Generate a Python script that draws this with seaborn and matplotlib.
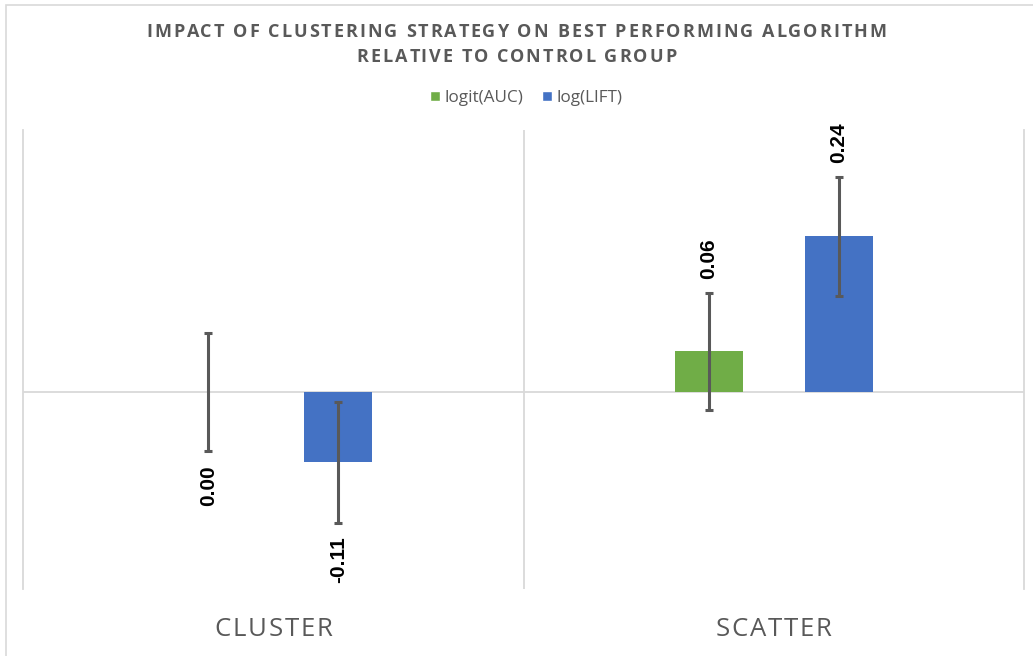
import matplotlib
matplotlib.use("Agg")
import matplotlib.pyplot as plt
from matplotlib.patches import Patch, Rectangle
import pandas as pd
import seaborn as sns

sns.set_theme(style="white")

# ============================================================
# DATA
# ============================================================
categories = ["CLUSTER", "SCATTER"]
series = ["logit(AUC)", "log(LIFT)"]
auc_values = [0.00, 0.063]
lift_values = [-0.108, 0.24]
auc_err = [0.091, 0.090]
lift_err = [0.093, 0.092]

colors = ["#70AD47", "#4472C4"]
grey = "#595959"
grid = "#D9D9D9"

df = pd.DataFrame({
    "strategy": categories * 2,
    "metric": [series[0]] * 2 + [series[1]] * 2,
    "value": auc_values + lift_values,
})
errs = {series[0]: auc_err, series[1]: lift_err}

# ============================================================
# FIGURE
# ============================================================
W, H = 1033, 656
fig = plt.figure(figsize=(W / 100, H / 100), dpi=100)
renderer = fig.canvas.get_renderer()


def spaced_text(s, cx, cy, spacing, **kw):
    """draw text centred at pixel (cx, cy) with extra letter spacing (px)"""
    def width(t):
        if not t:
            return 0.0
        tmp = fig.text(0, 0, t, **kw)
        w = tmp.get_window_extent(renderer).width
        tmp.remove()
        return w
    total = width(s) + spacing * (len(s) - 1)
    x0 = cx - total / 2
    for i, ch in enumerate(s):
        if ch == " ":
            continue
        x = x0 + width(s[:i]) + spacing * i
        fig.text(x / W, 1 - cy / H, ch, ha="left", va="center", **kw)


# outer chart border (cut at right/bottom like the screenshot)
fig.add_artist(Rectangle((6 / W, -0.05), 1.1, 1 - 5 / H + 0.05, transform=fig.transFigure,
                         fill=False, edgecolor=grid, linewidth=1.2))

left, right, top, bottom = 23, 1024, 130, 589
ax = fig.add_axes([left / W, 1 - bottom / H, (right - left) / W, (bottom - top) / H])

sns.barplot(data=df, x="strategy", y="value", hue="metric", order=categories,
            hue_order=series, palette=colors, width=0.52, gap=0.48,
            errorbar=None, legend=False, saturation=1, linewidth=0, ax=ax)

ax.set_xlim(-0.5, 1.5)
ax.set_ylim(-0.303, 0.404)

# error bars + labels
for metric, cont in zip(series, ax.containers):
    vals = df[df.metric == metric].value.values
    for bar, v, err in zip(cont, vals, errs[metric]):
        x = bar.get_x() + bar.get_width() / 2
        ax.errorbar(x, v, yerr=err, color=grey, linewidth=2.2, capsize=3,
                    capthick=2.2, zorder=5)
        if v > 0:
            ax.annotate(f"{v:.2f}", (x, v + err), xytext=(0, 10), textcoords="offset points",
                        rotation=90, ha="center", va="bottom", fontsize=15,
                        fontweight="bold", color="black", family="Liberation Sans")
        else:
            ax.annotate(f"{v:.2f}".replace("-0.00", "0.00"), (x, v - err), xytext=(0, -10),
                        textcoords="offset points", rotation=90, ha="center", va="top",
                        fontsize=15, fontweight="bold", color="black",
                        family="Liberation Sans")

ax.axhline(0, color=grid, linewidth=1.3, zorder=0)
ax.axvline(0.5, color=grid, linewidth=1.3, zorder=0)
for s in ["top", "bottom"]:
    ax.spines[s].set_visible(False)
for s in ["left", "right"]:
    ax.spines[s].set_color(grid)
    ax.spines[s].set_linewidth(1.3)

ax.set_yticks([])
ax.set_xticks([])
ax.set_xlabel("")
ax.set_ylabel("")

# category labels (spaced caps under each group)
for i, cat in enumerate(categories):
    px = ax.transData.transform((i, 0))[0]
    spaced_text(cat, px, 630, 1.8, fontsize=18.5, color=grey, family="Open Sans")

# title
title_kw = dict(fontsize=13, fontweight="bold", color=grey, family="Open Sans")
spaced_text("IMPACT OF CLUSTERING STRATEGY ON BEST PERFORMING ALGORITHM", W / 2, 32, 2.05, **title_kw)
spaced_text("RELATIVE TO CONTROL GROUP", W / 2, 57, 2.05, **title_kw)

handles = [Patch(facecolor=c, label=s) for c, s in zip(colors, series)]
fig.legend(handles=handles, loc="center", bbox_to_anchor=(526 / W, 1 - 98 / H), ncol=2,
           frameon=False, handlelength=0.6, handleheight=0.6, handletextpad=0.25,
           columnspacing=1.1, prop={"family": "Open Sans", "size": 12.3},
           labelcolor=grey)

plt.savefig("out.png", dpi=100)
plt.close()
